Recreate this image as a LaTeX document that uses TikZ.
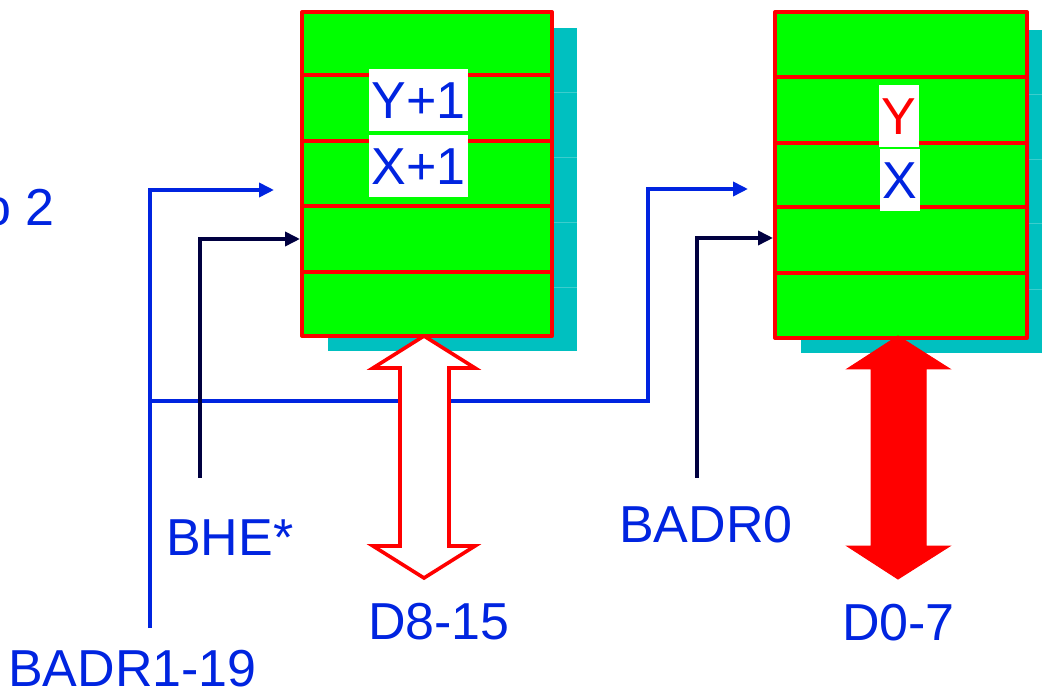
\documentclass[tikz,border=0pt]{standalone}
\usepackage{fontspec}
\setmainfont{Liberation Sans}
\usetikzlibrary{calc,arrows.meta}
\definecolor{tblue}{RGB}{0,36,224}
\definecolor{navyw}{RGB}{0,0,64}
\definecolor{memgreen}{RGB}{0,255,0}
\definecolor{memred}{RGB}{255,0,0}
\definecolor{shadowc}{RGB}{0,192,192}
\definecolor{shadowl}{RGB}{60,205,205}
\begin{document}
\begin{tikzpicture}[x=1pt,y=-1pt,
  membox/.style={draw=memred,fill=memgreen,line width=4pt,inner sep=0pt,line join=round},
  rowline/.style={draw=memred,line width=4pt},
  shadowbox/.style={fill=shadowc},
  shadowline/.style={draw=shadowl,line width=0.8pt},
  bluewire/.style={draw=tblue,line width=3.6pt},
  navywire/.style={draw=navyw,line width=3.6pt},
  bluetip/.style={-{Triangle[length=15pt,width=14pt]}},
  lbl/.style={font=\fontsize{52}{62}\selectfont,text=tblue,inner sep=0pt,anchor=base west},
  cell/.style={font=\fontsize{52}{62}\selectfont,fill=white,inner xsep=3pt,inner ysep=0pt,
     text height=37pt,text depth=0pt,minimum height=62pt},
  hollowbus/.style={draw=memred,fill=white,line width=3.6pt,line join=miter},
  solidbus/.style={draw=memred,fill=memred,line width=1pt,line join=miter}
]
\useasboundingbox (0,0) rectangle (1042,692);

% shadows
\fill[shadowbox] (328,28) rectangle (577,351);
\foreach \yy in {92,157,222,287} \draw[shadowline] (552,\yy) -- (577,\yy);
\fill[shadowbox] (801,30) rectangle (1050,353);
\foreach \yy in {94,159,223,289} \draw[shadowline] (1027,\yy) -- (1050,\yy);

% memory banks
\node[membox,minimum width=250pt,minimum height=324pt] (m1) at (427,174) {};
\node[membox,minimum width=252pt,minimum height=326pt] (m0) at (901,175) {};
\foreach \f in {0.1975,0.3981,0.5988,0.7994}{
  \draw[rowline] ($(m1.north west)!\f!(m1.south west)$) -- ($(m1.north east)!\f!(m1.south east)$);
}
\foreach \f in {0.2025,0.4018,0.5982,0.7975}{
  \draw[rowline] ($(m0.north west)!\f!(m0.south west)$) -- ($(m0.north east)!\f!(m0.south east)$);
}

% cell labels
\node[cell,text=tblue] (y1) at (418.5,100) {Y+1};
\node[cell,text=tblue] (x1) at (418.5,166.5) {X+1};
\node[cell,text=memred] (y0) at (899,116) {Y};
\node[cell,text=tblue] (x0) at (900,180) {X};

% text labels
\node[lbl] (o2) at (-18,226) {o 2};
\node[lbl] (bhe) at (166,555) {BHE*};
\node[lbl] (badr0) at (619,542) {BADR0};
\node[lbl] (d815) at (368,639) {D8-15};
\node[lbl] (d07) at (842,640) {D0-7};
\node[lbl] (badr119) at (8,686) {BADR1-19};

% wire coordinates
\coordinate (w1s) at (150,628);
\coordinate (w1e) at (274,190);
\coordinate (w2s) at (150,401);
\coordinate (w2c) at (648,401);
\coordinate (w2e) at (748,189);
\coordinate (bhes) at (200,478);
\coordinate (bhee) at (300,239);
\coordinate (b0s) at (697,478);
\coordinate (b0e) at (773,238);

\draw[bluewire,bluetip] (w1s) |- (w1e);
\draw[bluewire,bluetip] (w2s) -- (w2c) |- (w2e);
\draw[navywire,bluetip] (bhes) |- (bhee);
\draw[navywire,bluetip] (b0s) |- (b0e);

% data buses
\draw[hollowbus] (424,336) -- (475,368) -- (449,368) -- (449,546) -- (475,546) -- (424,578)
  -- (373,546) -- (400,546) -- (400,368) -- (373,368) -- cycle;
\draw[solidbus] (898,336) -- (950,369) -- (926,369) -- (926,546) -- (950,546) -- (898,579)
  -- (847,546) -- (871,546) -- (871,369) -- (847,369) -- cycle;
\end{tikzpicture}
\end{document}
